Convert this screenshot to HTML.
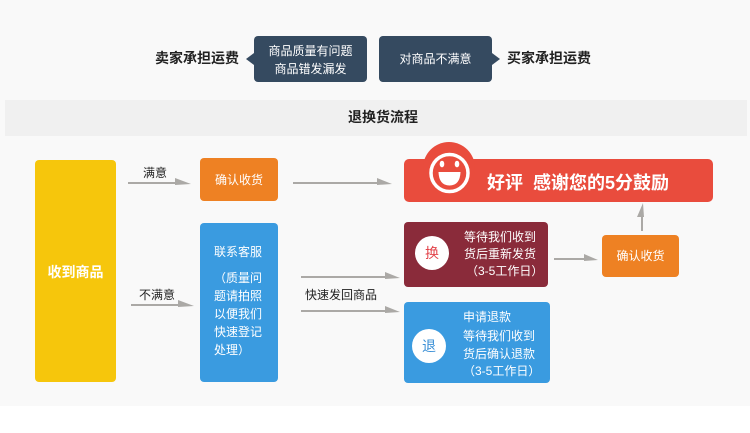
<!DOCTYPE html>
<html><head><meta charset="utf-8">
<style>
html,body{margin:0;padding:0;background:#fff;}
svg{display:block;}
text{font-family:"Liberation Sans","Noto Sans CJK SC",sans-serif;}
</style></head>
<body>
<svg width="750" height="433" viewBox="0 0 750 433" xmlns="http://www.w3.org/2000/svg">
<rect x="0" y="0" width="750" height="406" fill="#f9f9f9"/>
<rect x="0" y="406" width="750" height="27" fill="#ffffff"/>

<!-- top -->
<text x="155" y="63" font-size="14" font-weight="bold" fill="#222">卖家承担运费</text>
<rect x="254" y="36" width="113" height="46" rx="4" fill="#354a60"/>
<polygon points="254,53 246,59 254,65" fill="#354a60"/>
<text x="310.5" y="55" font-size="12" fill="#fff" text-anchor="middle">商品质量有问题</text>
<text x="310.5" y="73" font-size="12" fill="#fff" text-anchor="middle">商品错发漏发</text>
<rect x="379" y="36" width="113" height="46" rx="4" fill="#354a60"/>
<polygon points="492,53 500,59 492,65" fill="#354a60"/>
<text x="435.5" y="63" font-size="12" fill="#fff" text-anchor="middle">对商品不满意</text>
<text x="507" y="63" font-size="14" font-weight="bold" fill="#222">买家承担运费</text>

<rect x="5" y="100" width="742" height="36" fill="#f0f0f0"/>
<text x="383" y="122" font-size="14" font-weight="bold" fill="#222" text-anchor="middle">退换货流程</text>

<!-- yellow -->
<rect x="35" y="160" width="81" height="222" rx="4" fill="#f6c60c"/>
<text x="75.5" y="277" font-size="14" font-weight="bold" fill="#fff" text-anchor="middle">收到商品</text>

<!-- arrows -->
<g fill="#aba9a6">
<rect x="128" y="182" width="52" height="2"/>
<polygon points="175,178 191,184 175,185"/>
<rect x="293" y="182" width="88" height="2"/>
<polygon points="377,178 392,184 377,185"/>
<rect x="131" y="304" width="52" height="2"/>
<polygon points="178,300 194,306 178,307"/>
<rect x="301" y="276" width="88" height="2"/>
<polygon points="385,272 400,278 385,279"/>
<rect x="301" y="310" width="88" height="2"/>
<polygon points="385,306 400,312 385,313"/>
<rect x="554" y="258" width="34" height="2"/>
<polygon points="584,254 598,260 584,261"/>
<rect x="641" y="214" width="2" height="17"/>
<polygon points="637,217 643,203 644,217"/>
</g>
<text x="143" y="177" font-size="12" fill="#222">满意</text>
<text x="139" y="299" font-size="12" fill="#222">不满意</text>
<text x="305" y="299" font-size="12" fill="#222">快速发回商品</text>

<!-- orange -->
<rect x="200" y="158" width="78" height="43" rx="4" fill="#ee8123"/>
<text x="239" y="184" font-size="12" fill="#fff" text-anchor="middle">确认收货</text>

<!-- blue -->
<rect x="200" y="223" width="78" height="159" rx="4" fill="#3a9be0"/>
<g font-size="12" fill="#fff">
<text x="214" y="256">联系客服</text>
<text x="214" y="282">（质量问</text>
<text x="214" y="300">题请拍照</text>
<text x="214" y="318">以便我们</text>
<text x="214" y="336">快速登记</text>
<text x="214" y="354">处理）</text>
</g>

<!-- red banner -->
<rect x="404" y="159" width="309" height="43" rx="5" fill="#e94c3d"/>
<circle cx="449" cy="168" r="26" fill="#e94c3d"/>
<circle cx="449.5" cy="173" r="18.5" fill="none" stroke="#fff" stroke-width="3.5"/>
<ellipse cx="442" cy="164" rx="2.3" ry="3.3" fill="#fff"/>
<ellipse cx="457" cy="164" rx="2.3" ry="3.3" fill="#fff"/>
<path d="M438.5 172 L460.5 172 Q460 185.5 449.5 185.5 Q439 185.5 438.5 172 Z" fill="#fff"/>
<text x="487" y="189" font-size="18" font-weight="bold" fill="#fff">好评</text>
<text x="533" y="189" font-size="18" font-weight="bold" fill="#fff">感谢您的5分鼓励</text>

<!-- exchange box -->
<rect x="404" y="222" width="144" height="65" rx="4" fill="#8a2b3a"/>
<circle cx="432" cy="253" r="17" fill="#fff"/>
<text x="432" y="258" font-size="14" fill="#e2434a" text-anchor="middle">换</text>
<g font-size="12" fill="#fff">
<text x="464" y="241">等待我们收到</text>
<text x="464" y="258">货后重新发货</text>
<text x="466" y="275">（3-5工作日）</text>
</g>

<!-- orange right -->
<rect x="602" y="235" width="77" height="42" rx="4" fill="#ee8123"/>
<text x="640.5" y="260" font-size="12" fill="#fff" text-anchor="middle">确认收货</text>

<!-- refund box -->
<rect x="404" y="302" width="146" height="81" rx="4" fill="#3a9be0"/>
<circle cx="429" cy="346" r="17" fill="#fff"/>
<text x="429" y="351" font-size="14" fill="#3a8fd6" text-anchor="middle">退</text>
<g font-size="12" fill="#fff">
<text x="463" y="321">申请退款</text>
<text x="463" y="340">等待我们收到</text>
<text x="463" y="358">货后确认退款</text>
<text x="463" y="375">（3-5工作日）</text>
</g>
</svg>
</body></html>
